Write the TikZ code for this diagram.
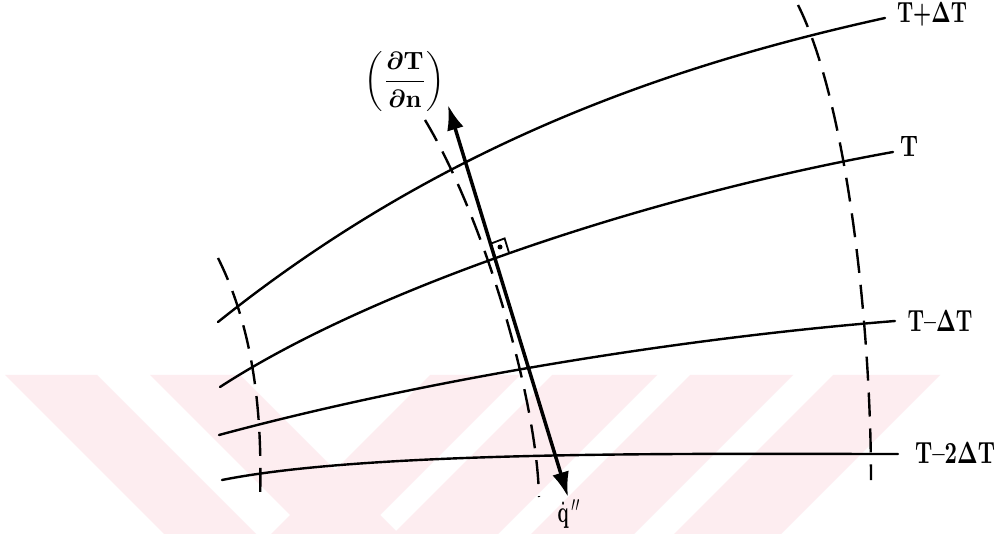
\documentclass[tikz,border=0pt]{standalone}
\usepackage{graphicx}
\usepackage{amsmath}
\usetikzlibrary{arrows.meta}
\definecolor{wm}{RGB}{253,237,240}
\tikzset{
  iso/.style={line width=2.4pt, line cap=round},
  guide/.style={line width=2.4pt, dash pattern=on 24pt off 12pt},
  flux/.style={line width=3.5pt, {Latex[length=25pt,width=17pt]}-{Latex[length=25pt,width=17pt]}},
  lab/.style={inner sep=0pt},
  wmark/.style={fill=wm, draw=none}
}
\begin{document}
\begin{tikzpicture}[x=1pt,y=-1pt]
\useasboundingbox (0,0) rectangle (1001,534);
\fill[white] (0,0) rectangle (1001,534);
% watermark
\fill[wmark] (5,375) -- (97,375) -- (256,534) -- (164,534) -- cycle;
\fill[wmark] (150,375) -- (240,375) -- (399,534) -- (309,534) -- cycle;
\fill[wmark] (430,375) -- (520,375) -- (361,534) -- (271,534) -- cycle;
\fill[wmark] (552,375) -- (657,375) -- (498,534) -- (393,534) -- cycle;
\fill[wmark] (690,375) -- (793,375) -- (634,534) -- (531,534) -- cycle;
\fill[wmark] (833,375) -- (940,375) -- (781,534) -- (674,534) -- cycle;
% isotherms
\draw[iso] (218,322) .. controls (438,146) and (665,66.4) .. (885,18);
\draw[iso] (220,387) .. controls (370,289.5) and (643,197) .. (893,152);
\draw[iso] (219,435) .. controls (419,381) and (675,338.6) .. (895,321);
\draw[iso] (222,480) .. controls (372,450) and (700,454) .. (898,454);
% guide (dashed) lines
\draw[guide] (218,258) .. controls (258,338) and (262,430) .. (260,500);
\draw[guide] (425,120) .. controls (485,220) and (537,400) .. (539,497);
\draw[guide] (798,5) .. controls (848,105) and (871,330) .. (871,480);
% gradient / flux arrow
\coordinate (qtop) at (448,105);
\coordinate (qbot) at (568,497);
\draw[flux] (qtop) -- (qbot);
% right-angle mark
\coordinate (ra) at (495,258);
\draw[line width=1.8pt] (509,252.7) -- (504.6,238.4) -- (490.6,243.7);
\fill (500,247) circle (2.5pt);
% labels
\node[lab] (lA) at (932,14) {\resizebox{70pt}{20pt}{\bfseries\boldmath T+$\Delta$T}};
\node[lab] (lB) at (909,147) {\resizebox{18pt}{20pt}{\bfseries T}};
\node[lab] (lC) at (940,321) {\resizebox{65pt}{21pt}{\bfseries\boldmath T--$\Delta$T}};
\node[lab] (lD) at (955,453) {\resizebox{80pt}{21pt}{\bfseries\boldmath T--2$\Delta$T}};
\node[lab] (lq) at (569,514) {\resizebox*{23pt}{29pt}{$\dot{\mathbf q}^{\,\prime\prime}$}};
\node[lab] (lg) at (405,82) {\resizebox*{80pt}{60pt}{\boldmath$\left(\dfrac{\partial \mathbf{T}}{\partial \mathbf{n}}\right)$}};
\end{tikzpicture}
\end{document}
